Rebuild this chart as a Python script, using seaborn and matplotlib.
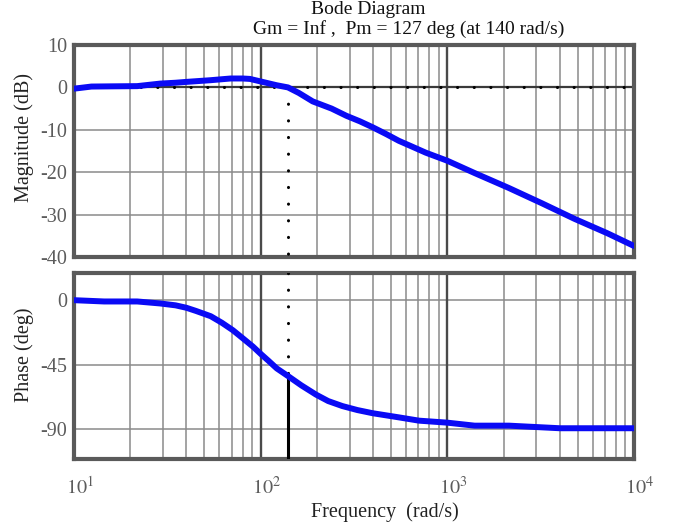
import numpy as np
import matplotlib
matplotlib.use("Agg")
import matplotlib.pyplot as plt
import matplotlib.transforms as mtransforms
from matplotlib.ticker import FixedLocator, FixedFormatter, LogLocator, NullFormatter
import seaborn as sns

# Magnitude response (rad/s, dB)
mag_freq = [10, 12.4, 16, 21.8, 29, 35, 40, 54, 69, 80, 87.6, 100, 122, 140,
            160, 190, 240, 288, 340, 398, 470, 550, 650, 767, 1000, 1400,
            2130, 3200, 4800, 7200, 10000]
mag_db = [-0.3, 0.2, 0.25, 0.3, 0.9, 1.1, 1.3, 1.7, 2.1, 2.1, 2.0, 1.4, 0.5, 0.0,
          -1.3, -3.3, -5.0, -6.7, -8.0, -9.4, -11.0, -12.6, -14.0, -15.4, -17.3,
          -20.2, -23.7, -27.3, -31.0, -34.4, -37.4]

# Phase response (rad/s, deg)
phase_freq = [10, 14.5, 21.8, 29, 35, 40, 45, 54, 62, 71, 80, 91, 100, 110,
              122, 140, 165, 198, 230, 274, 330, 398, 550, 705, 1000, 1400,
              2140, 4000, 10000]
phase_deg = [0, -0.9, -0.9, -2.3, -3.6, -5.3, -7.5, -11.2, -15.8, -21, -26.5,
             -32.5, -37.5, -42.3, -47.7, -53, -59.5, -66, -70.5, -74, -76.8,
             -79, -81.9, -84.2, -85.6, -87.7, -87.7, -89.5, -89.5]

# Stability margins
gain_margin = "Inf"
phase_margin = 127
crossover_freq = 140

mag_ticks = [10, 0, -10, -20, -30, -40]
phase_ticks = [0, -45, -90]
freq_ticks = [10, 100, 1000, 10000]
freq_ticklabels = [r"$10^{1}$", r"$10^{2}$", r"$10^{3}$", r"$10^{4}$"]

sns.set_style("white")
plt.rcParams["font.family"] = ["Liberation Serif", "DejaVu Serif"]
plt.rcParams["mathtext.fontset"] = "stix"
plt.rcParams["axes.unicode_minus"] = False

W, H = 678, 526
fig = plt.figure(figsize=(W / 100, H / 100), dpi=100)
fig.patch.set_facecolor("white")

ax_l, ax_w = 74 / W, 560 / W
ax_mag = fig.add_axes([ax_l, 269 / H, ax_w, 212 / H])
ax_ph = fig.add_axes([ax_l, 67 / H, ax_w, 186 / H])

curve_color = "#0a0af5"
tick_color = "#5c5c5c"
fs = 14.5

dots = dict(color="black", linewidth=2.2, linestyle=(0, (0.05, 5.4)),
            dash_capstyle="round", zorder=4)


def style_axes(ax, ylim, yticks):
    ax.set_xscale("log")
    ax.set_xlim(10, 10000)
    ax.set_ylim(*ylim)
    ax.yaxis.set_major_locator(FixedLocator(yticks))
    ax.yaxis.set_major_formatter(FixedFormatter([str(t) for t in yticks]))
    ax.xaxis.set_major_locator(FixedLocator(freq_ticks))
    ax.xaxis.set_minor_locator(LogLocator(base=10, subs=np.arange(2, 10), numticks=20))
    ax.xaxis.set_minor_formatter(NullFormatter())
    # grid: light minor lines, darker decade lines
    ax.grid(False)
    for t in yticks:
        ax.axhline(t, color="#8a8a8a", linewidth=1.1, zorder=1)
    for f in ax.xaxis.get_minorticklocs():
        if 10 < f < 10000:
            ax.axvline(f, color="#8a8a8a", linewidth=1.1, zorder=1)
    for f in freq_ticks[1:-1]:
        ax.axvline(f, color="#4a4a4a", linewidth=1.7, zorder=1)
    for sp in ax.spines.values():
        sp.set_color("#5a5a5a")
        sp.set_linewidth(3.0)
        sp.set_visible(True)
    ax.tick_params(axis="y", direction="in", length=5, width=1.5, color="#333333",
                   labelsize=fs, labelcolor=tick_color, pad=5)
    ax.tick_params(axis="x", which="both", direction="in", length=0,
                   labelsize=fs, labelcolor=tick_color)


# Magnitude panel
style_axes(ax_mag, (-40, 10), mag_ticks)
ax_mag.axhline(0, color="#3a3a3a", linewidth=1.6, zorder=2)
ax_mag.axhline(0, **dots)
ax_mag.plot([crossover_freq, crossover_freq], [0, -40], **dots)
sns.lineplot(x=mag_freq, y=mag_db, ax=ax_mag, color=curve_color,
             linewidth=4.3, zorder=5, solid_capstyle="round")
ax_mag.set_xticklabels([])
ax_mag.set_xlabel("")
ax_mag.set_ylabel("")

# Phase panel
style_axes(ax_ph, (-111, 19), phase_ticks)
phase_at_crossover = phase_margin - 180
ax_ph.plot([crossover_freq, crossover_freq], [19, phase_at_crossover], **dots)
ax_ph.plot([crossover_freq, crossover_freq], [phase_at_crossover, -111],
           color="black", linewidth=2.2, zorder=4, solid_capstyle="butt")
sns.lineplot(x=phase_freq, y=phase_deg, ax=ax_ph, color=curve_color,
             linewidth=4.3, zorder=5, solid_capstyle="round")
ax_ph.set_xticklabels(freq_ticklabels)
ax_ph.tick_params(axis="x", pad=13)
shift = mtransforms.ScaledTranslation(6 / 100, 0, fig.dpi_scale_trans)
for lab in ax_ph.get_xticklabels():
    lab.set_transform(lab.get_transform() + shift)
ax_ph.set_xlabel("")
ax_ph.set_ylabel("")

# Titles and axis labels
fig.text(368 / W, 1 - 10 / H, "Bode Diagram", ha="center", va="center",
         fontsize=14, color="#111111")
fig.text(409 / W, 1 - 29 / H,
         f"Gm = {gain_margin} ,  Pm = {phase_margin} deg (at {crossover_freq} rad/s)",
         ha="center", va="center", fontsize=14, color="#111111")
fig.text(24 / W, 1 - 138 / H, "Magnitude (dB)", rotation=90, ha="center",
         va="center", fontsize=fs, color="#222222")
fig.text(24 / W, 1 - 355 / H, "Phase (deg)", rotation=90, ha="center",
         va="center", fontsize=fs, color="#222222")
fig.text(385 / W, 1 - 512 / H, "Frequency  (rad/s)", ha="center", va="center",
         fontsize=fs, color="#222222")

fig.savefig("out.png", dpi=100, facecolor="white")
